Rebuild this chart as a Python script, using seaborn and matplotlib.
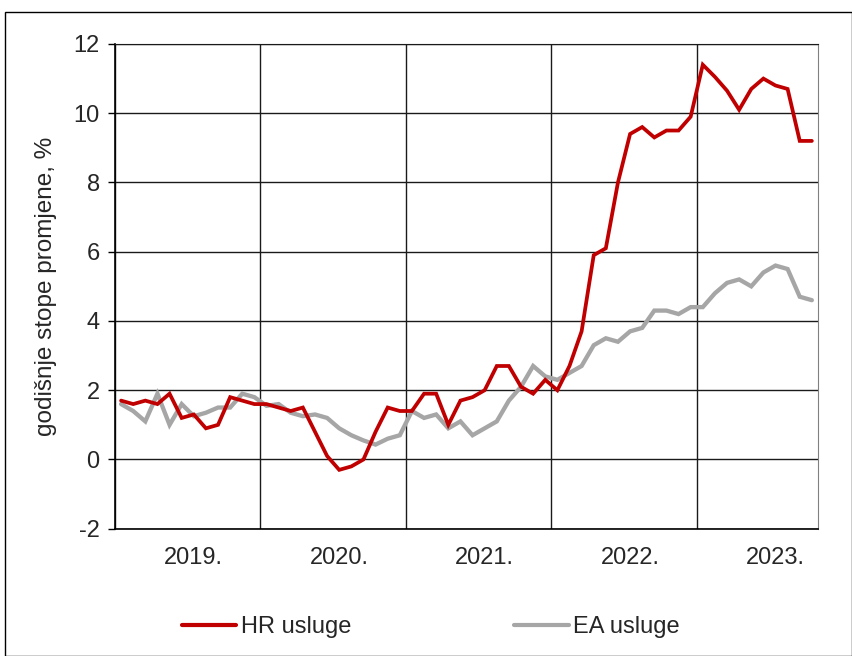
"""
Godisnje stope promjene cijena usluga: HR vs. EA, sij. 2019. - lis. 2023.
Output: out.png
"""
import matplotlib.pyplot as plt
import numpy as np
import pandas as pd
import seaborn as sns
from matplotlib.patches import Rectangle
from matplotlib.ticker import FixedLocator

# monthly values, Jan 2019 .. Oct 2023 (58 months)
HR_USLUGE = [
    1.7, 1.6, 1.7, 1.6, 1.9, 1.2, 1.3, 0.9, 1.0, 1.8, 1.7, 1.6,      # 2019
    1.6, 1.5, 1.4, 1.5, 0.8, 0.1, -0.3, -0.2, 0.0, 0.8, 1.5, 1.4,    # 2020
    1.4, 1.9, 1.9, 1.0, 1.7, 1.8, 2.0, 2.7, 2.7, 2.1, 1.9, 2.3,      # 2021
    2.0, 2.7, 3.7, 5.9, 6.1, 8.0, 9.4, 9.6, 9.3, 9.5, 9.5, 9.9,      # 2022
    11.4, 11.05, 10.65, 10.1, 10.7, 11.0, 10.8, 10.7, 9.2, 9.2,      # 2023
]
EA_USLUGE = [
    1.6, 1.4, 1.1, 1.9, 1.0, 1.6, 1.25, 1.35, 1.5, 1.5, 1.9, 1.8,    # 2019
    1.55, 1.6, 1.35, 1.25, 1.3, 1.2, 0.9, 0.7, 0.55, 0.43, 0.6, 0.7, # 2020
    1.4, 1.2, 1.3, 0.9, 1.1, 0.7, 0.9, 1.1, 1.7, 2.1, 2.7, 2.4,      # 2021
    2.3, 2.5, 2.7, 3.3, 3.5, 3.4, 3.7, 3.8, 4.3, 4.3, 4.2, 4.4,      # 2022
    4.4, 4.8, 5.1, 5.2, 5.0, 5.4, 5.6, 5.5, 4.7, 4.6,                # 2023
]
YEARS = ["2019.", "2020.", "2021.", "2022.", "2023."]
SERIES = ["HR usluge", "EA usluge"]
COLORS = {"HR usluge": "#C00000", "EA usluge": "#A6A6A6"}

months = pd.date_range("2019-01-01", periods=len(HR_USLUGE), freq="MS")
df = pd.DataFrame({
    "pos": np.tile(np.arange(len(months)), 2),
    "serija": np.repeat(SERIES, len(months)),
    "stopa": HR_USLUGE + EA_USLUGE,
})

sns.set_style("white")
plt.rcParams["font.family"] = ["Liberation Sans", "DejaVu Sans"]

fig = plt.figure(figsize=(8.52, 6.56), dpi=100)
ax = fig.add_axes([0.135, 0.194, 0.825, 0.739])

sns.lineplot(data=df, x="pos", y="stopa", hue="serija", hue_order=SERIES,
             palette=COLORS, ax=ax, legend=False, linewidth=2.6)
for line, lw in zip(ax.lines, [2.7, 3.1]):
    line.set_linewidth(lw)
    line.set_solid_joinstyle("miter")
# red line drawn on top
ax.lines[0].set_zorder(4)
ax.lines[1].set_zorder(3)

n = len(months)
ax.set_xlim(-0.5, n - 0.5)
ax.set_ylim(-2, 12)
ax.set_yticks(np.arange(-2, 13, 2))
ax.set_yticklabels([str(v) for v in range(-2, 13, 2)])

year_starts = [i for i, m in enumerate(months) if m.month == 1]
ax.xaxis.set_minor_locator(FixedLocator([s - 0.5 for s in year_starts]))
ax.set_xticks([s + 6 for s in year_starts])
ax.set_xticklabels(YEARS)

ax.grid(which="minor", axis="x", color="#1a1a1a", linewidth=1.0)
ax.grid(which="major", axis="y", color="#1a1a1a", linewidth=1.0)
ax.grid(which="major", axis="x", visible=False)
ax.set_axisbelow(True)

ax.tick_params(axis="x", which="both", length=0, labelsize=17, pad=13)
ax.tick_params(axis="y", which="major", length=5, width=1, color="black",
               labelsize=17, pad=6, left=True)

for side in ["left", "bottom"]:
    ax.spines[side].set_color("black")
    ax.spines[side].set_linewidth(1.2)
ax.spines["top"].set_color("#1a1a1a")
ax.spines["right"].set_color("#808080")

ax.set_xlabel("")
ax.set_ylabel("godišnje stope promjene, %", fontsize=17.5)
ax.yaxis.set_label_coords(-0.083, 0.5)

handles = [plt.Line2D([], [], color=COLORS[s], linewidth=3) for s in SERIES]
fig.legend(handles, SERIES, loc="center", bbox_to_anchor=(0.506, 0.044),
           ncol=2, frameon=False, fontsize=17, handlelength=2.3,
           handletextpad=0.2, columnspacing=6.9)

fig.add_artist(Rectangle((0.006, 0.0), 0.994, 0.982, transform=fig.transFigure,
                         fill=False, edgecolor="black", linewidth=1.0))

fig.savefig("out.png", dpi=100)
